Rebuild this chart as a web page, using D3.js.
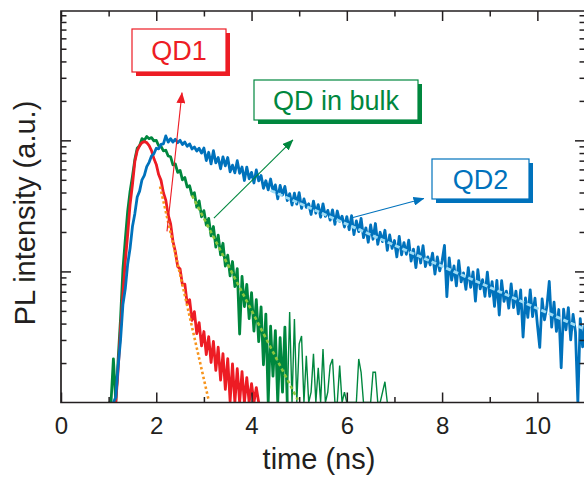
<!DOCTYPE html>
<html>
<head>
<meta charset="utf-8">
<script src="https://d3js.org/d3.v7.min.js"></script>
<style>
  body { margin: 0; background: #fff; }
  svg { display: block; font-family: "Liberation Sans", Arial, Helvetica, sans-serif; }
</style>
</head>
<body>
<svg id="chart" width="584" height="477"></svg>
<script>
// time bins (ns) for the decay histograms
const binWidth = 0.05;
const xTicks = [0, 2, 4, 6, 8, 10];
const xMinorTicks = [1, 3, 5, 7, 9];
const yMajorTicks = [0.1, 1];
const yMinorTicks = [0.02, 0.03, 0.04, 0.05, 0.06, 0.07, 0.08, 0.09,
                     0.2, 0.3, 0.4, 0.5, 0.6, 0.7, 0.8, 0.9,
                     2, 3, 4, 5, 6, 7, 8, 9];

// QD1 (red), first bin at 1.10 ns
const qd1Start = 1.10;
const qd1 = [
  0.004, 0.005, 0.018, 0.0363, 0.067, 0.12, 0.192, 0.324, 0.46, 0.689,
  0.835, 0.911, 0.961, 0.977, 0.961, 0.911, 0.835, 0.726, 0.655, 0.548,
  0.495, 0.398, 0.350, 0.270, 0.232, 0.170, 0.142, 0.109, 0.1045, 0.0788,
  0.0799, 0.0563, 0.0609, 0.0423, 0.0494, 0.0335, 0.0407, 0.0270, 0.0348, 0.0232,
  0.0318, 0.0202, 0.0292, 0.0176, 0.0264, 0.0148, 0.0236, 0.0126, 0.0216, 0.0102,
  0.0197, 0.0071, 0.0181, 0.0077, 0.0172, 0.0054, 0.0155, 0.0044, 0.0139, 0.004,
  0.0130, 0.004
];

// QD in bulk (green), first bin at 1.00 ns
const bulkStart = 1.00;
const bulk = [
  0.004, 0.004, 0.0215, 0.005, 0.0214, 0.0437, 0.1035, 0.176, 0.288, 0.407,
  0.53, 0.713, 0.87, 0.91, 1.03, 1.00, 1.07, 1.03, 1.05, 0.99,
  1.0, 0.91, 0.90, 0.83, 0.84, 0.76, 0.75, 0.65, 0.66, 0.57,
  0.59, 0.50, 0.52, 0.44, 0.45, 0.38, 0.399, 0.309, 0.345, 0.261,
  0.291, 0.226, 0.254, 0.187, 0.220, 0.153, 0.189, 0.134, 0.164, 0.110,
  0.133, 0.0924, 0.119, 0.0765, 0.105, 0.0333, 0.0915, 0.054, 0.0797, 0.0436,
  0.0689, 0.0351, 0.0608, 0.0291, 0.0536, 0.0194, 0.0473, 0.0075, 0.0382, 0.0159,
  0.0354, 0.0065, 0.0312, 0.0120, 0.0376, 0.0050, 0.0490, 0.0080, 0.0433, 0.0050,
  0.0280, 0.0322, 0.0050, 0.0227, 0.0050, 0.0120, 0.0235, 0.0040, 0.0184, 0.0040,
  0.0256, 0.0040, 0.0120, 0.0191, 0.0215, 0.0040, 0.0040, 0.0191, 0.0040, 0.0120,
  0.004, 0.004, 0.004, 0.004, 0.004, 0.0215, 0.0170, 0.004, 0.004, 0.004,
  0.004, 0.0170, 0.0170, 0.004, 0.004, 0.0120, 0.0144, 0.004
];

// QD2 (blue), first bin at 1.10 ns
const qd2Start = 1.10;
const qd2 = [
  0.006, 0.011, 0.019, 0.030, 0.056, 0.074, 0.114, 0.150, 0.220, 0.276,
  0.370, 0.410, 0.500, 0.540, 0.630, 0.680, 0.760, 0.790, 0.870, 0.860,
  0.930, 0.940, 1.080, 0.970, 1.030, 0.970, 1.020, 0.960, 1.000, 0.930,
  0.970, 0.900, 0.940, 0.860, 0.890, 0.830, 0.870, 0.800,
  0.873, 0.701, 0.811, 0.661, 0.833, 0.673, 0.739, 0.607, 0.748, 0.639,
  0.740, 0.576, 0.647, 0.565, 0.699, 0.560, 0.626, 0.494, 0.625, 0.509,
  0.570, 0.473, 0.594, 0.491, 0.540, 0.431, 0.492, 0.419, 0.507, 0.411,
  0.457, 0.358, 0.453, 0.383, 0.445, 0.347, 0.392, 0.321, 0.395, 0.326,
  0.399, 0.303, 0.357, 0.308, 0.328, 0.272, 0.344, 0.278, 0.323, 0.259,
  0.328, 0.263, 0.292, 0.246, 0.295, 0.229, 0.289, 0.241, 0.264, 0.218,
  0.262,
  0.208, 0.266, 0.191, 0.243, 0.201, 0.254, 0.181, 0.215, 0.167, 0.226,
  0.176, 0.232, 0.161, 0.199, 0.169, 0.206, 0.145, 0.190, 0.150, 0.172,
  0.129, 0.185, 0.134, 0.166, 0.135, 0.173, 0.120, 0.148, 0.107, 0.154,
  0.116, 0.157, 0.109, 0.129, 0.112, 0.138, 0.0956, 0.129, 0.101, 0.120,
  0.158, 0.0642, 0.127, 0.0857, 0.110, 0.0776, 0.121, 0.0832, 0.0975, 0.0730,
  0.107, 0.0756, 0.0992, 0.0593, 0.103, 0.0735, 0.0866, 0.0645, 0.0989, 0.0645,
  0.0834, 0.0541, 0.0854, 0.0465, 0.0851, 0.0591, 0.0707, 0.0524, 0.0804, 0.0530,
  0.0706, 0.0474, 0.0722, 0.0316, 0.0627, 0.0446, 0.0722, 0.0452, 0.0626, 0.0394,
  0.0263, 0.0617, 0.0427, 0.0542, 0.0838, 0.0376, 0.0582, 0.0349, 0.0512, 0.0184,
  0.0515, 0.0358, 0.0529, 0.0300, 0.0470, 0.0344, 0.0077, 0.0437, 0.0266, 0.0399
];

// single exponential fits (end points, straight in log scale)
const qd1FitT = [2.08, 3.10];
const qd1FitV = [0.444, 0.0104];
const bulkFitT = [2.75, 4.97];
const bulkFitV = [0.380, 0.0105];
const qd2FitT = [4.4, 11.0];
const qd2FitV = [0.414, 0.0361];

// annotation arrows: tail -> head in data units
const arrowFromT = [2.225, 3.21, 6.13];
const arrowFromV = [0.202, 0.255, 0.258];
const arrowToT = [2.54, 4.87, 7.62];
const arrowToV = [2.31, 1.01, 0.36];
const labelText = ["QD1", "QD in bulk", "QD2"];

// ---- layout / style ----
const red = "#ed1c24", green = "#00873e", blue = "#0072bc";
const colors = [red, green, blue];
const axisCol = "#231f20";
const plot = {left: 61, right: 585, top: 11, bottom: 402.5};
const boxes = [
  {x: 132, y: 29, w: 94, h: 43},
  {x: 254, y: 80, w: 164, h: 40},
  {x: 432, y: 159, w: 97, h: 40}
];

const svg = d3.select("#chart");

const x = d3.scaleLinear().domain([0, 11]).range([plot.left, plot.right]);
const y = d3.scaleLog().domain([0.01, 9.7]).range([plot.bottom, plot.top]).clamp(true);

svg.append("defs").append("clipPath").attr("id", "clip")
  .append("rect")
  .attr("x", plot.left).attr("y", plot.top)
  .attr("width", plot.right - plot.left).attr("height", plot.bottom - plot.top);

const bins = (start, vals) => vals.map((v, i) => [start + i * binWidth, v]);
const line = d3.line().x(d => x(d[0])).y(d => y(d[1]));

const traces = svg.append("g").attr("clip-path", "url(#clip)");

// measured decays; blue on top. sparse photon-count tail drawn thin
const series = [
  [bulkStart, bulk, green, 4.72],
  [qd1Start, qd1, red, 99],
  [qd2Start, qd2, blue, 99]
];
series.forEach(s => {
  const pts = bins(s[0], s[1]);
  const cut = pts.findIndex(d => d[0] >= s[3]);
  const dense = cut < 0 ? pts : pts.slice(0, cut + 1);
  traces.append("path")
    .datum(dense)
    .attr("d", line)
    .attr("fill", "none")
    .attr("stroke", s[2])
    .attr("stroke-width", 2.8)
    .attr("stroke-linejoin", "round");
  if (cut >= 0) {
    traces.append("path")
      .datum(pts.slice(cut))
      .attr("d", line)
      .attr("fill", "none")
      .attr("stroke", s[2])
      .attr("stroke-width", 1.4);
  }
});

// fits
const fits = [
  [qd1FitT, qd1FitV, "#f7941d", "2.5,2.5", 2.6],
  [bulkFitT, bulkFitV, "#8dc63f", "3.5,3", 2.6],
  [qd2FitT, qd2FitV, "#9ddcf5", "5,3", 2.8]
];
fits.forEach(f => {
  traces.append("path")
    .datum(f[0].map((t, i) => [t, f[1][i]]))
    .attr("d", line)
    .attr("fill", "none")
    .attr("stroke", f[2])
    .attr("stroke-width", f[4])
    .attr("stroke-dasharray", f[3]);
});

// axes with inward ticks
function styleAxis(g) {
  g.select(".domain").remove();
  g.selectAll("line").attr("stroke", axisCol).attr("stroke-width", 1.5);
  g.attr("font-size", 24).attr("font-family", null);
  g.selectAll("text").attr("fill", axisCol);
}

svg.append("g")
  .attr("transform", `translate(0,${plot.bottom})`)
  .call(d3.axisBottom(x).tickValues(xTicks).tickSize(-10).tickPadding(14).tickFormat(d3.format("d")))
  .call(styleAxis);
svg.append("g")
  .attr("transform", `translate(0,${plot.bottom})`)
  .call(d3.axisBottom(x).tickValues(xMinorTicks).tickSize(-5.5).tickFormat(""))
  .call(styleAxis);
svg.append("g")
  .attr("transform", `translate(0,${plot.top})`)
  .call(d3.axisTop(x).tickValues(xTicks).tickSize(-10).tickFormat(""))
  .call(styleAxis);
svg.append("g")
  .attr("transform", `translate(0,${plot.top})`)
  .call(d3.axisTop(x).tickValues(xMinorTicks).tickSize(-5.5).tickFormat(""))
  .call(styleAxis);
svg.append("g")
  .attr("transform", `translate(${plot.left},0)`)
  .call(d3.axisLeft(y).tickValues(yMajorTicks).tickSize(-10).tickFormat(""))
  .call(styleAxis);
svg.append("g")
  .attr("transform", `translate(${plot.left},0)`)
  .call(d3.axisLeft(y).tickValues(yMinorTicks).tickSize(-5.5).tickFormat(""))
  .call(styleAxis);
svg.append("g")
  .attr("transform", `translate(${plot.right},0)`)
  .call(d3.axisRight(y).tickValues(yMajorTicks).tickSize(-10).tickFormat(""))
  .call(styleAxis);
svg.append("g")
  .attr("transform", `translate(${plot.right},0)`)
  .call(d3.axisRight(y).tickValues(yMinorTicks).tickSize(-5.5).tickFormat(""))
  .call(styleAxis);

// frame
svg.append("path")
  .attr("d", `M${plot.left},${plot.top}H${plot.right}V${plot.bottom}H${plot.left}Z`)
  .attr("fill", "none")
  .attr("stroke", axisCol)
  .attr("stroke-width", 1.7);

// axis titles
svg.append("text")
  .attr("x", 319).attr("y", 469)
  .attr("text-anchor", "middle")
  .attr("font-size", 29)
  .attr("fill", axisCol)
  .text("time (ns)");
svg.append("text")
  .attr("transform", "translate(35,213) rotate(-90)")
  .attr("text-anchor", "middle")
  .attr("font-size", 29)
  .attr("fill", axisCol)
  .text("PL intensity (a.u.)");

// arrows
const defs = svg.select("defs");
colors.forEach((c, i) => {
  defs.append("marker")
    .attr("id", "head" + i)
    .attr("viewBox", "0 0 11 9")
    .attr("refX", 10.5).attr("refY", 4.5)
    .attr("markerUnits", "userSpaceOnUse")
    .attr("markerWidth", 11).attr("markerHeight", 9)
    .attr("orient", "auto")
    .append("path")
    .attr("d", "M0,0L11,4.5L0,9Z")
    .attr("fill", c);
});
colors.forEach((c, i) => {
  svg.append("line")
    .attr("x1", x(arrowFromT[i])).attr("y1", y(arrowFromV[i]))
    .attr("x2", x(arrowToT[i])).attr("y2", y(arrowToV[i]))
    .attr("stroke", c)
    .attr("stroke-width", 1.1)
    .attr("marker-end", `url(#head${i})`);
});

// labelled boxes with drop shadow
boxes.forEach((b, i) => {
  const g = svg.append("g");
  g.append("rect")
    .attr("x", b.x + 4).attr("y", b.y + 4)
    .attr("width", b.w).attr("height", b.h)
    .attr("fill", colors[i]);
  g.append("rect")
    .attr("x", b.x).attr("y", b.y)
    .attr("width", b.w).attr("height", b.h)
    .attr("fill", "#fff")
    .attr("stroke", colors[i])
    .attr("stroke-width", 1.2);
  g.append("text")
    .attr("x", b.x + b.w / 2).attr("y", b.y + b.h / 2 + 9.5)
    .attr("text-anchor", "middle")
    .attr("font-size", 27)
    .attr("fill", colors[i])
    .text(labelText[i]);
});
</script>
</body>
</html>
